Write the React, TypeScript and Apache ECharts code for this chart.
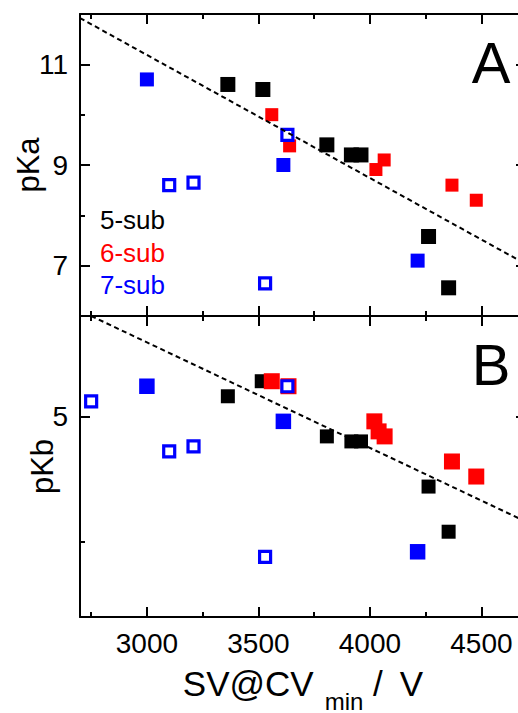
import React, { useEffect, useRef } from "react";
import * as echarts from "echarts";

// ---- Data ----
// Panel A : pKa vs SV@CVmin
const black5A_x = [3363, 3520, 3807, 3917, 3960, 4263, 4353];
const black5A_y = [10.6, 10.5, 9.4, 9.2, 9.2, 7.58, 6.56];
const red6A_x = [3560, 3640, 4027, 4064, 4368, 4477];
const red6A_y = [10.0, 9.38, 8.91, 9.1, 8.6, 8.3];
const blue7A_x = [3000, 3612, 4214];
const blue7A_y = [10.7, 9.0, 7.1];
const blue7openA_x = [3100, 3209, 3530, 3630];
const blue7openA_y = [8.6, 8.65, 6.65, 9.6];
const fitA_x = [2700, 4700];
const fitA_y = [11.92, 7.03];

// Panel B : pKb vs SV@CVmin
const black5B_x = [3363, 3515, 3807, 3917, 3960, 4263, 4353];
const black5B_y = [5.08, 5.14, 4.92, 4.9, 4.9, 4.72, 4.54];
const red6B_x = [3560, 3635, 4020, 4039, 4066, 4368, 4477];
const red6B_y = [5.14, 5.12, 4.98, 4.94, 4.92, 4.82, 4.76];
const blue7B_x = [3000, 3612, 4214];
const blue7B_y = [5.12, 4.98, 4.46];
const blue7openB_x = [2750, 3100, 3209, 3530, 3630];
const blue7openB_y = [5.06, 4.86, 4.88, 4.44, 5.12];
const fitB_x = [2750, 4700];
const fitB_y = [5.4, 4.58];

// Axes
const xMin = 2700;
const xMax = 4700;
const xMajor = [3000, 3500, 4000, 4500];
const xMinor = [2750, 3250, 3750, 4250];
const yA_min = 6;
const yA_max = 12;
const yA_major = [7, 9, 11];
const yA_minor = [8, 10];
const yB_min = 4.2;
const yB_max = 5.4;
const yB_major = [5];
const yB_minor = [4.5];

const legendLabels = ["5-sub", "6-sub", "7-sub"];
const BLACK = "#000000";
const RED = "#ff0000";
const BLUE = "#0000ff";
const FONT = "'Liberation Sans', Arial, Helvetica, sans-serif";

const zip = (xs: number[], ys: number[]) => xs.map((x, i) => [x, ys[i]]);

export default function App() {
  const ref = useRef<HTMLDivElement>(null);

  useEffect(() => {
    if (!ref.current) return;
    const chart = echarts.init(ref.current, null, { renderer: "svg" });

    const xAxes: any[] = [];
    const yAxes: any[] = [];
    const xIndex: number[] = [];
    const yIndex: number[] = [];

    const tickStyle = { color: BLACK, width: 2 };

    [0, 1].forEach((g) => {
      ["bottom", "top"].forEach((pos) => {
        [true, false].forEach((major) => {
          if (pos === "bottom" && major) xIndex[g] = xAxes.length;
          const isLabelAxis = g === 1 && pos === "bottom" && major;
          xAxes.push({
            type: "value",
            gridIndex: g,
            position: pos,
            min: xMin,
            max: xMax,
            axisLine: { show: major, onZero: false, lineStyle: { color: BLACK, width: 2 } },
            axisTick: {
              show: true,
              inside: true,
              length: major ? 10 : 5,
              customValues: major ? xMajor : xMinor,
              lineStyle: tickStyle,
            },
            axisLabel: {
              show: isLabelAxis,
              customValues: xMajor,
              formatter: (v: number) => String(v),
              color: BLACK,
              fontFamily: FONT,
              fontSize: 28,
              margin: 12,
            },
            splitLine: { show: false },
            ...(isLabelAxis
              ? {
                  name: "SV@CV{sub|min} /{v|V}",
                  nameLocation: "middle",
                  nameGap: 36,
                  nameMoveOverlap: false,
                  nameTextStyle: {
                    color: BLACK,
                    fontFamily: FONT,
                    fontSize: 35,
                    verticalAlign: "top",
                    rich: {
                      sub: {
                        fontSize: 24,
                        fontFamily: FONT,
                        color: BLACK,
                        verticalAlign: "middle",
                        padding: [36, 0, 0, 11],
                      },
                      v: {
                        fontSize: 35,
                        fontFamily: FONT,
                        color: BLACK,
                        verticalAlign: "middle",
                        padding: [0, 0, 0, 17],
                      },
                    },
                  },
                }
              : {}),
          });
        });
      });
      ["left", "right"].forEach((pos) => {
        [true, false].forEach((major) => {
          if (pos === "left" && major) yIndex[g] = yAxes.length;
          const isLabelAxis = pos === "left" && major;
          const mn = g === 0 ? yA_min : yB_min;
          const mx = g === 0 ? yA_max : yB_max;
          const maj = g === 0 ? yA_major : yB_major;
          const mnr = g === 0 ? yA_minor : yB_minor;
          yAxes.push({
            type: "value",
            gridIndex: g,
            position: pos,
            min: mn,
            max: mx,
            axisLine: { show: major, onZero: false, lineStyle: { color: BLACK, width: 2 } },
            axisTick: {
              show: true,
              inside: true,
              length: major ? 10 : 5,
              customValues: major ? maj : mnr,
              lineStyle: tickStyle,
            },
            axisLabel: {
              show: isLabelAxis,
              customValues: maj,
              formatter: (v: number) => String(v),
              color: BLACK,
              fontFamily: FONT,
              fontSize: 28,
              margin: 12,
            },
            splitLine: { show: false },
            ...(isLabelAxis
              ? {
                  name: g === 0 ? "pKa" : "pKb",
                  nameLocation: "middle",
                  nameGap: g === 0 ? 36 : 22,
                  nameMoveOverlap: false,
                  nameTextStyle: { color: BLACK, fontFamily: FONT, fontSize: 31 },
                }
              : {}),
          });
        });
      });
    });

    const panels = [
      {
        black: zip(black5A_x, black5A_y),
        red: zip(red6A_x, red6A_y),
        blue: zip(blue7A_x, blue7A_y),
        open: zip(blue7openA_x, blue7openA_y),
        fit: zip(fitA_x, fitA_y),
        sizes: { black: 15, red: 13, blue: 14 },
      },
      {
        black: zip(black5B_x, black5B_y),
        red: zip(red6B_x, red6B_y),
        blue: zip(blue7B_x, blue7B_y),
        open: zip(blue7openB_x, blue7openB_y),
        fit: zip(fitB_x, fitB_y),
        sizes: { black: 14, red: 16, blue: 15.5 },
      },
    ];

    const series: any[] = [];
    panels.forEach((p, g) => {
      const base = { xAxisIndex: xIndex[g], yAxisIndex: yIndex[g] };
      series.push({
        ...base,
        name: "5-sub",
        type: "scatter",
        symbol: "rect",
        symbolSize: p.sizes.black,
        itemStyle: { color: BLACK, opacity: 1 },
        data: p.black,
        z: 2,
      });
      series.push({
        ...base,
        name: "6-sub",
        type: "scatter",
        symbol: "rect",
        symbolSize: p.sizes.red,
        itemStyle: { color: RED, opacity: 1 },
        data: p.red,
        z: 3,
      });
      series.push({
        ...base,
        name: "7-sub",
        type: "scatter",
        symbol: "rect",
        symbolSize: p.sizes.blue,
        itemStyle: { color: BLUE, opacity: 1 },
        data: p.blue,
        z: 4,
      });
      series.push({
        ...base,
        name: "7-sub (open)",
        type: "scatter",
        symbol: "rect",
        symbolSize: 11,
        itemStyle: { color: "#ffffff", borderColor: BLUE, borderWidth: 3.2, opacity: 1 },
        data: p.open,
        z: 5,
      });
      series.push({
        ...base,
        name: "fit",
        type: "line",
        showSymbol: false,
        symbol: "none",
        lineStyle: { color: BLACK, width: 2, type: [5, 3.5] },
        data: p.fit,
        z: 6,
      });
    });

    chart.setOption({
      animation: false,
      backgroundColor: "#ffffff",
      textStyle: { fontFamily: FONT },
      grid: [
        { left: 80, top: 14, width: 446, height: 302, outerBoundsMode: "none", containLabel: false },
        { left: 80, top: 316, width: 446, height: 301, outerBoundsMode: "none", containLabel: false },
      ],
      xAxis: xAxes,
      yAxis: yAxes,
      series,
      graphic: [
        {
          type: "text",
          x: 491,
          y: 62,
          style: { text: "A", fill: BLACK, font: `58px ${FONT}`, align: "center", verticalAlign: "middle" },
        },
        {
          type: "text",
          x: 491,
          y: 364,
          style: { text: "B", fill: BLACK, font: `58px ${FONT}`, align: "center", verticalAlign: "middle" },
        },
        {
          type: "text",
          x: 100,
          y: 220,
          style: { text: legendLabels[0], fill: BLACK, font: `26px ${FONT}`, align: "left", verticalAlign: "middle" },
        },
        {
          type: "text",
          x: 100,
          y: 253,
          style: { text: legendLabels[1], fill: RED, font: `26px ${FONT}`, align: "left", verticalAlign: "middle" },
        },
        {
          type: "text",
          x: 100,
          y: 285,
          style: { text: legendLabels[2], fill: BLUE, font: `26px ${FONT}`, align: "left", verticalAlign: "middle" },
        },
      ],
    });

    return () => chart.dispose();
  }, []);

  return (
    <div
      ref={ref}
      style={{ position: "fixed", left: 0, top: 0, width: 518, height: 713, background: "#fff" }}
    />
  );
}
